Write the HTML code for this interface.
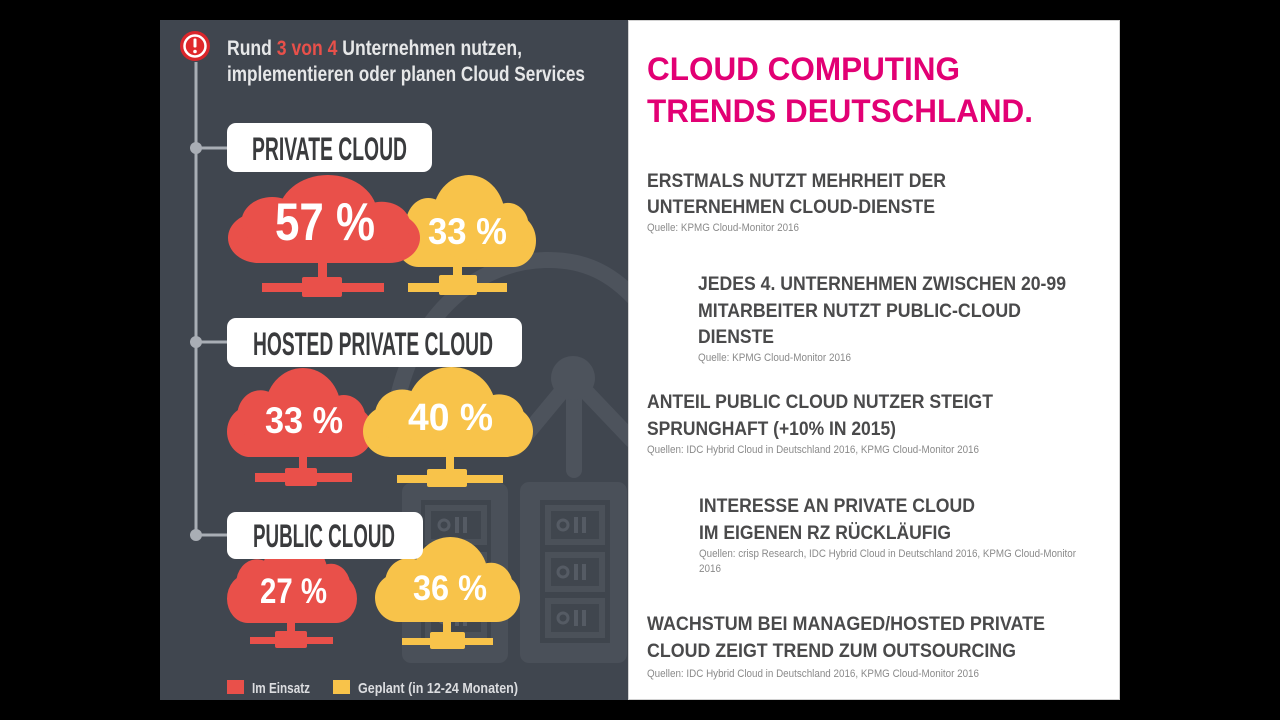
<!DOCTYPE html>
<html><head><meta charset="utf-8"><style>
html,body{margin:0;padding:0;background:#000;width:1280px;height:720px;overflow:hidden}
svg{display:block}
.n{font-family:"Liberation Sans Narrow","Liberation Sans",sans-serif;font-weight:bold}
.s{font-family:"Liberation Sans",sans-serif}
</style></head><body>
<svg width="1280" height="720" viewBox="0 0 1280 720" xmlns="http://www.w3.org/2000/svg">
<defs>
<symbol id="cl" viewBox="0 0 100 56" preserveAspectRatio="none">
<rect x="0" y="24" width="100" height="32" rx="16" ry="16"/>
<circle cx="23" cy="30" r="16"/>
<circle cx="52" cy="26" r="26"/>
<circle cx="80" cy="32" r="15"/>
</symbol>
</defs>
<rect x="0" y="0" width="1280" height="720" fill="#000"/>
<!-- left panel -->
<rect x="160" y="20" width="468" height="680" fill="#40464f"/>
<!-- background decorations -->
<g fill="none" stroke="#4d535c" stroke-width="16" stroke-linecap="round">
<path d="M392 440 C398 330 468 262 545 260 C585 259 612 274 636 300"/>
<path d="M573 378 L515 448"/>
<path d="M573 378 L632 440"/>
<path d="M574 378 L574 470"/>
</g>
<circle cx="573" cy="378" r="22" fill="#4d535c"/>
<g>
<rect x="402" y="483" width="106" height="180" rx="9" fill="#4a5059"/>
<rect x="421" y="500" width="70" height="143" fill="#3f454d"/>
<rect x="425" y="505" width="62" height="40" fill="#4b5159"/>
<rect x="425" y="552" width="62" height="40" fill="#4b5159"/>
<rect x="425" y="598" width="62" height="40" fill="#4b5159"/>
<rect x="520" y="482" width="107" height="181" rx="9" fill="#4a5059"/>
<rect x="540" y="500" width="70" height="143" fill="#3f454d"/>
<rect x="545" y="505" width="60" height="40" fill="#4b5159"/>
<rect x="545" y="552" width="60" height="40" fill="#4b5159"/>
<rect x="545" y="598" width="60" height="40" fill="#4b5159"/>
<g fill="#40464e">
<rect x="551" y="511" width="48" height="28"/>
<rect x="551" y="558" width="48" height="28"/>
<rect x="551" y="604" width="48" height="28"/>
<rect x="431" y="511" width="50" height="28"/>
<rect x="431" y="558" width="50" height="28"/>
<rect x="431" y="604" width="50" height="28"/>
</g>
<g fill="none" stroke="#555b64" stroke-width="3">
<circle cx="563" cy="525" r="5"/><circle cx="563" cy="572" r="5"/><circle cx="563" cy="618" r="5"/>
<circle cx="444" cy="525" r="5"/><circle cx="444" cy="572" r="5"/><circle cx="444" cy="618" r="5"/>
</g>
<g fill="#555b64">
<rect x="574" y="517" width="4" height="16"/><rect x="582" y="517" width="4" height="16"/>
<rect x="574" y="564" width="4" height="16"/><rect x="582" y="564" width="4" height="16"/>
<rect x="574" y="610" width="4" height="16"/><rect x="582" y="610" width="4" height="16"/>
<rect x="455" y="517" width="4" height="16"/><rect x="463" y="517" width="4" height="16"/>
<rect x="455" y="564" width="4" height="16"/><rect x="463" y="564" width="4" height="16"/>
<rect x="455" y="610" width="4" height="16"/><rect x="463" y="610" width="4" height="16"/>
</g>
</g>

<!-- alert icon -->
<circle cx="195" cy="46" r="15" fill="#d9262b"/>
<circle cx="195" cy="46" r="10.5" fill="#e0282b" stroke="#fff" stroke-width="2.5"/>
<rect x="193.5" y="38.5" width="3" height="9" rx="1" fill="#fff"/>
<circle cx="195" cy="51.5" r="1.8" fill="#fff"/>

<!-- title -->
<text class="n" x="227" y="55" font-size="21" fill="#e6e7e8" textLength="295" lengthAdjust="spacingAndGlyphs">Rund <tspan fill="#e8504a">3 von 4</tspan> Unternehmen nutzen,</text>
<text class="n" x="227" y="81" font-size="21" fill="#e6e7e8" textLength="358" lengthAdjust="spacingAndGlyphs">implementieren oder planen Cloud Services</text>

<!-- connectors -->
<g stroke="#a9aeb5" stroke-width="3">
<line x1="196" y1="62" x2="196" y2="535"/>
<line x1="196" y1="148" x2="228" y2="148"/>
<line x1="196" y1="342" x2="228" y2="342"/>
<line x1="196" y1="535" x2="228" y2="535"/>
</g>
<g fill="#a9aeb5">
<circle cx="196" cy="148" r="6"/><circle cx="196" cy="342" r="6"/><circle cx="196" cy="535" r="6"/>
</g>

<!-- PRIVATE CLOUD clouds -->
<g fill="#f8c34a">
<use href="#cl" x="396" y="175" width="140" height="92"/>
<rect x="453" y="262" width="9" height="20"/>
<rect x="408" y="283" width="99" height="9"/>
<rect x="439" y="275" width="38" height="20" rx="2"/>
</g>
<g fill="#e9504a">
<use href="#cl" x="228" y="175" width="192" height="88"/>
<rect x="318" y="258" width="9" height="24"/>
<rect x="262" y="283" width="122" height="9"/>
<rect x="302" y="277" width="40" height="20" rx="2"/>
</g>
<text class="n" x="275" y="240" font-size="53" fill="#fff" textLength="100" lengthAdjust="spacingAndGlyphs">57 %</text>
<text class="n" x="428" y="244" font-size="37" fill="#fff" textLength="79" lengthAdjust="spacingAndGlyphs">33 %</text>

<!-- HOSTED clouds -->
<g fill="#e9504a">
<use href="#cl" x="227" y="368" width="146" height="89"/>
<rect x="299" y="452" width="8" height="22"/>
<rect x="255" y="473" width="97" height="9"/>
<rect x="285" y="468" width="32" height="18" rx="2"/>
</g>
<g fill="#f8c34a">
<use href="#cl" x="363" y="367" width="170" height="90"/>
<rect x="446" y="452" width="8" height="24"/>
<rect x="397" y="475" width="106" height="8"/>
<rect x="427" y="469" width="40" height="18" rx="2"/>
</g>
<text class="n" x="265" y="433" font-size="37" fill="#fff" textLength="78" lengthAdjust="spacingAndGlyphs">33 %</text>
<text class="n" x="408" y="430" font-size="38" fill="#fff" textLength="85" lengthAdjust="spacingAndGlyphs">40 %</text>

<!-- PUBLIC clouds -->
<g fill="#e9504a">
<use href="#cl" x="227" y="538" width="130" height="85"/>
<rect x="287" y="618" width="8" height="20"/>
<rect x="250" y="637" width="83" height="7"/>
<rect x="275" y="631" width="32" height="17" rx="2"/>
</g>
<g fill="#f8c34a">
<use href="#cl" x="375" y="537" width="145" height="85"/>
<rect x="443" y="617" width="8" height="22"/>
<rect x="402" y="638" width="91" height="7"/>
<rect x="430" y="632" width="35" height="17" rx="2"/>
</g>
<text class="n" x="260" y="603" font-size="35" fill="#fff" textLength="67" lengthAdjust="spacingAndGlyphs">27 %</text>
<text class="n" x="413" y="600" font-size="35" fill="#fff" textLength="74" lengthAdjust="spacingAndGlyphs">36 %</text>

<!-- label boxes -->
<rect x="227" y="123" width="205" height="49" rx="9" fill="#fff"/>
<text class="n" x="252" y="160" font-size="32" fill="#3a3b3d" textLength="155" lengthAdjust="spacingAndGlyphs">PRIVATE CLOUD</text>
<rect x="227" y="318" width="295" height="49" rx="9" fill="#fff"/>
<text class="n" x="253" y="355" font-size="32" fill="#3a3b3d" textLength="240" lengthAdjust="spacingAndGlyphs">HOSTED PRIVATE CLOUD</text>
<rect x="227" y="512" width="196" height="47" rx="9" fill="#fff"/>
<text class="n" x="253" y="547" font-size="32" fill="#3a3b3d" textLength="142" lengthAdjust="spacingAndGlyphs">PUBLIC CLOUD</text>

<!-- legend -->
<rect x="227" y="680" width="17" height="14" fill="#e9504a"/>
<text class="n" x="252" y="693" font-size="15" fill="#dcdde0" textLength="58" lengthAdjust="spacingAndGlyphs">Im Einsatz</text>
<rect x="333" y="680" width="17" height="14" fill="#f8c34a"/>
<text class="n" x="358" y="693" font-size="15" fill="#dcdde0" textLength="160" lengthAdjust="spacingAndGlyphs">Geplant (in 12-24 Monaten)</text>

<!-- right panel -->
<rect x="628.5" y="20.5" width="491" height="679" fill="#fff" stroke="#d2d2d2" stroke-width="1"/>
<text class="s" x="647" y="80" font-size="32" font-weight="bold" fill="#e20074" textLength="313" lengthAdjust="spacingAndGlyphs">CLOUD COMPUTING</text>
<text class="s" x="647" y="122" font-size="32" font-weight="bold" fill="#e20074" textLength="386" lengthAdjust="spacingAndGlyphs">TRENDS DEUTSCHLAND.</text>

<g class="s" font-weight="bold" font-size="19" fill="#4a4a4b">
<text x="647" y="187" textLength="299" lengthAdjust="spacingAndGlyphs">ERSTMALS NUTZT MEHRHEIT DER</text>
<text x="647" y="213" textLength="288" lengthAdjust="spacingAndGlyphs">UNTERNEHMEN CLOUD-DIENSTE</text>
<text x="698" y="290" textLength="368" lengthAdjust="spacingAndGlyphs">JEDES 4. UNTERNEHMEN ZWISCHEN 20-99</text>
<text x="698" y="317" textLength="323" lengthAdjust="spacingAndGlyphs">MITARBEITER NUTZT PUBLIC-CLOUD</text>
<text x="698" y="343" textLength="76" lengthAdjust="spacingAndGlyphs">DIENSTE</text>
<text x="647" y="408" textLength="346" lengthAdjust="spacingAndGlyphs">ANTEIL PUBLIC CLOUD NUTZER STEIGT</text>
<text x="647" y="435" textLength="249" lengthAdjust="spacingAndGlyphs">SPRUNGHAFT (+10% IN 2015)</text>
<text x="699" y="512" textLength="276" lengthAdjust="spacingAndGlyphs">INTERESSE AN PRIVATE CLOUD</text>
<text x="699" y="539" textLength="252" lengthAdjust="spacingAndGlyphs">IM EIGENEN RZ RÜCKLÄUFIG</text>
<text x="647" y="630" textLength="398" lengthAdjust="spacingAndGlyphs">WACHSTUM BEI MANAGED/HOSTED PRIVATE</text>
<text x="647" y="657" textLength="369" lengthAdjust="spacingAndGlyphs">CLOUD ZEIGT TREND ZUM OUTSOURCING</text>
</g>
<g class="s" font-size="11" fill="#8a8a8a">
<text x="647" y="231" textLength="152" lengthAdjust="spacingAndGlyphs">Quelle: KPMG Cloud-Monitor 2016</text>
<text x="698" y="361" textLength="153" lengthAdjust="spacingAndGlyphs">Quelle: KPMG Cloud-Monitor 2016</text>
<text x="647" y="453" textLength="332" lengthAdjust="spacingAndGlyphs">Quellen: IDC Hybrid Cloud in Deutschland 2016, KPMG Cloud-Monitor 2016</text>
<text x="699" y="557" textLength="377" lengthAdjust="spacingAndGlyphs">Quellen: crisp Research, IDC Hybrid Cloud in Deutschland 2016, KPMG Cloud-Monitor</text>
<text x="699" y="572" textLength="22" lengthAdjust="spacingAndGlyphs">2016</text>
<text x="647" y="677" textLength="332" lengthAdjust="spacingAndGlyphs">Quellen: IDC Hybrid Cloud in Deutschland 2016, KPMG Cloud-Monitor 2016</text>
</g>
</svg>
</body></html>
